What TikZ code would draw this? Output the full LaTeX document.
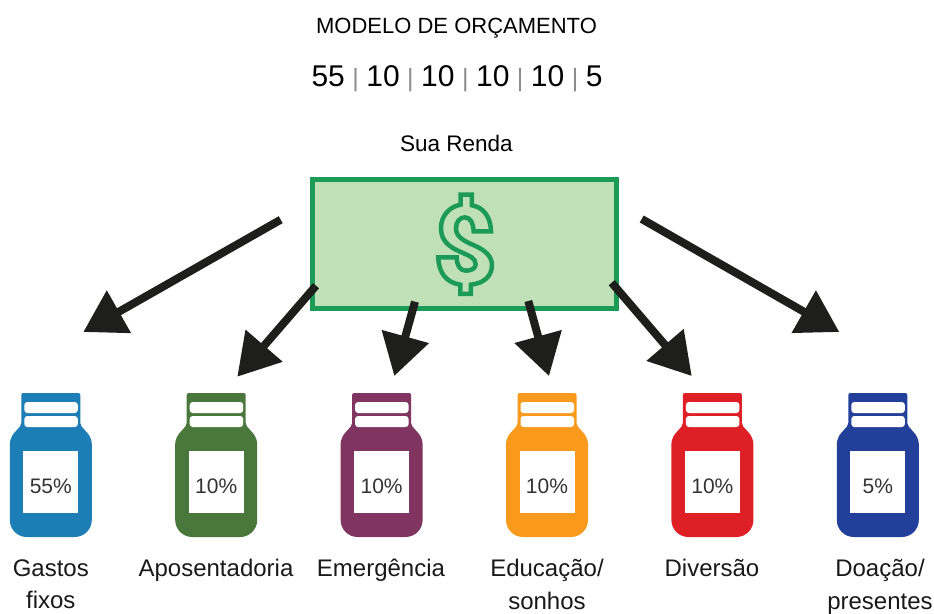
\documentclass[tikz,border=0pt]{standalone}
\usepackage{fontspec}
\setmainfont{Liberation Sans}
\usetikzlibrary{arrows.meta,positioning}
\definecolor{billgreen}{HTML}{1C9A57}
\definecolor{billfill}{HTML}{C0E1B7}
\definecolor{arrowblack}{HTML}{1E1E1C}
\definecolor{jarblue}{HTML}{1D7DB5}
\definecolor{jargreen}{HTML}{4A773C}
\definecolor{jarpurple}{HTML}{7F3560}
\definecolor{jarorange}{HTML}{FA9A1D}
\definecolor{jarred}{HTML}{DF1F26}
\definecolor{jarnavy}{HTML}{224099}
\newcommand{\splitbar}{\kern7.5pt{\color{black!45}\fontsize{25}{25}\selectfont|}\kern7.5pt}
\tikzset{
	pics/jar/.style={code={
		\fill[#1, rounded corners=2pt] (-29.5,-89) -- (29.5,-89) -- (29.5,-57) [rounded corners=6pt] -- (41,-44) -- (41,0) [rounded corners=17pt] -- (41,55) -- (-41,55) -- (-41,0) [rounded corners=6pt] -- (-41,-44) [rounded corners=2pt] -- (-29.5,-57) -- cycle;
		\fill[white, rounded corners=3pt] (-26.5,-80) rectangle (27,-69);
		\fill[white, rounded corners=3pt] (-26.5,-66) rectangle (27,-55);
	}},
	pct/.style={fill=white, text=black!80, minimum width=55pt, minimum height=62pt, inner sep=0pt, text height=23pt, text depth=0pt, font=\fontsize{21}{25}\selectfont},
	jarname/.style={align=center, font=\fontsize{24}{32.5}\selectfont, text=black!90},
	share/.style={-{Triangle[length=41pt,width=47pt]}, line width=8pt, color=arrowblack}
}
\begin{document}
\begin{tikzpicture}[x=1pt,y=-1pt,node distance=165.4pt]
	\useasboundingbox (0,0) rectangle (934,613);
	\node [font=\fontsize{22}{26}\selectfont] (title) at (456.5,28) {MODELO DE ORÇAMENTO};
	\node [font=\fontsize{30}{36}\selectfont] (split) at (457,79) {55\splitbar 10\splitbar 10\splitbar 10\splitbar 10\splitbar 5};
	\node [font=\fontsize{22.5}{26}\selectfont] (renda) at (456.5,143) {Sua Renda};

	\node [draw=billgreen, fill=billfill, line width=5pt, minimum width=304pt, minimum height=129pt, inner sep=0pt] (bill) at (464.8,244) {};
	% dollar sign, traced
	\begin{scope}[shift={(300,170)},x=.3333pt,y=-.3333pt]
		\draw[billgreen, line width=4.5pt, line join=miter] (482,74) -- (516,74) -- (516,106) .. controls (550,112) and (572,140) .. (573,184) -- (521,184) .. controls (520,160) and (512,143) .. (495,142) .. controls (480,142) and (468,155) .. (468,175) .. controls (468,200) and (490,212) .. (520,225) .. controls (560,242) and (576,262) .. (576,285) .. controls (576,320) and (550,340) .. (513,344) -- (513,372) -- (481,372) -- (481,344) .. controls (440,338) and (416,310) .. (415,262) -- (470,262) .. controls (470,285) and (480,302) .. (497,302) .. controls (515,302) and (527,295) .. (527,283) .. controls (527,265) and (510,258) .. (480,245) .. controls (445,230) and (423,210) .. (423,175) .. controls (423,135) and (450,110) .. (482,104) -- cycle;
	\end{scope}

	\coordinate (A) at (50.8,482);
	\node [coordinate, right of=A] (B) {};
	\node [coordinate, right of=B] (C) {};
	\node [coordinate, right of=C] (D) {};
	\node [coordinate, right of=D] (E) {};
	\node [coordinate, right of=E] (F) {};

	\pic at (A) {jar=jarblue};
	\pic at (B) {jar=jargreen};
	\pic at (C) {jar=jarpurple};
	\pic at (D) {jar=jarorange};
	\pic at (E) {jar=jarred};
	\pic at (F) {jar=jarnavy};

	\node [pct] (pA) at (A) {55\%};
	\node [pct] (pB) at (B) {10\%};
	\node [pct] (pC) at (C) {10\%};
	\node [pct] (pD) at (D) {10\%};
	\node [pct] (pE) at (E) {10\%};
	\node [pct] (pF) at (F) {5\%};

	\node [jarname, anchor=north] (nA) at (50.8,556) {Gastos\\fixos};
	\node [jarname, anchor=north] (nB) at (216,556) {Aposentadoria};
	\node [jarname, anchor=north] (nC) at (381,555) {Emergência};
	\node [jarname, anchor=north] (nD) at (547,556) {Educação/\\sonhos};
	\node [jarname, anchor=north] (nE) at (712,556) {Diversão};
	\node [jarname, anchor=north] (nF) at (880,556) {Doação/\\presentes};

	\coordinate (s1) at (280.7,219.7);
	\coordinate (s2) at (316,285.7);
	\coordinate (s3) at (415,301.7);
	\coordinate (s4) at (528.3,301);
	\coordinate (s5) at (611.7,282.7);
	\coordinate (s6) at (641.7,219);
	\coordinate (t1) at (83.3,332);
	\coordinate (t2) at (237.3,376.7);
	\coordinate (t3) at (394.3,376);
	\coordinate (t4) at (549,376);
	\coordinate (t5) at (691.7,376);
	\coordinate (t6) at (839.3,332);
	\draw [share] (s1) -- (t1);
	\draw [share] (s2) -- (t2);
	\draw [share] (s3) -- (t3);
	\draw [share] (s4) -- (t4);
	\draw [share] (s5) -- (t5);
	\draw [share] (s6) -- (t6);
\end{tikzpicture}
\end{document}
